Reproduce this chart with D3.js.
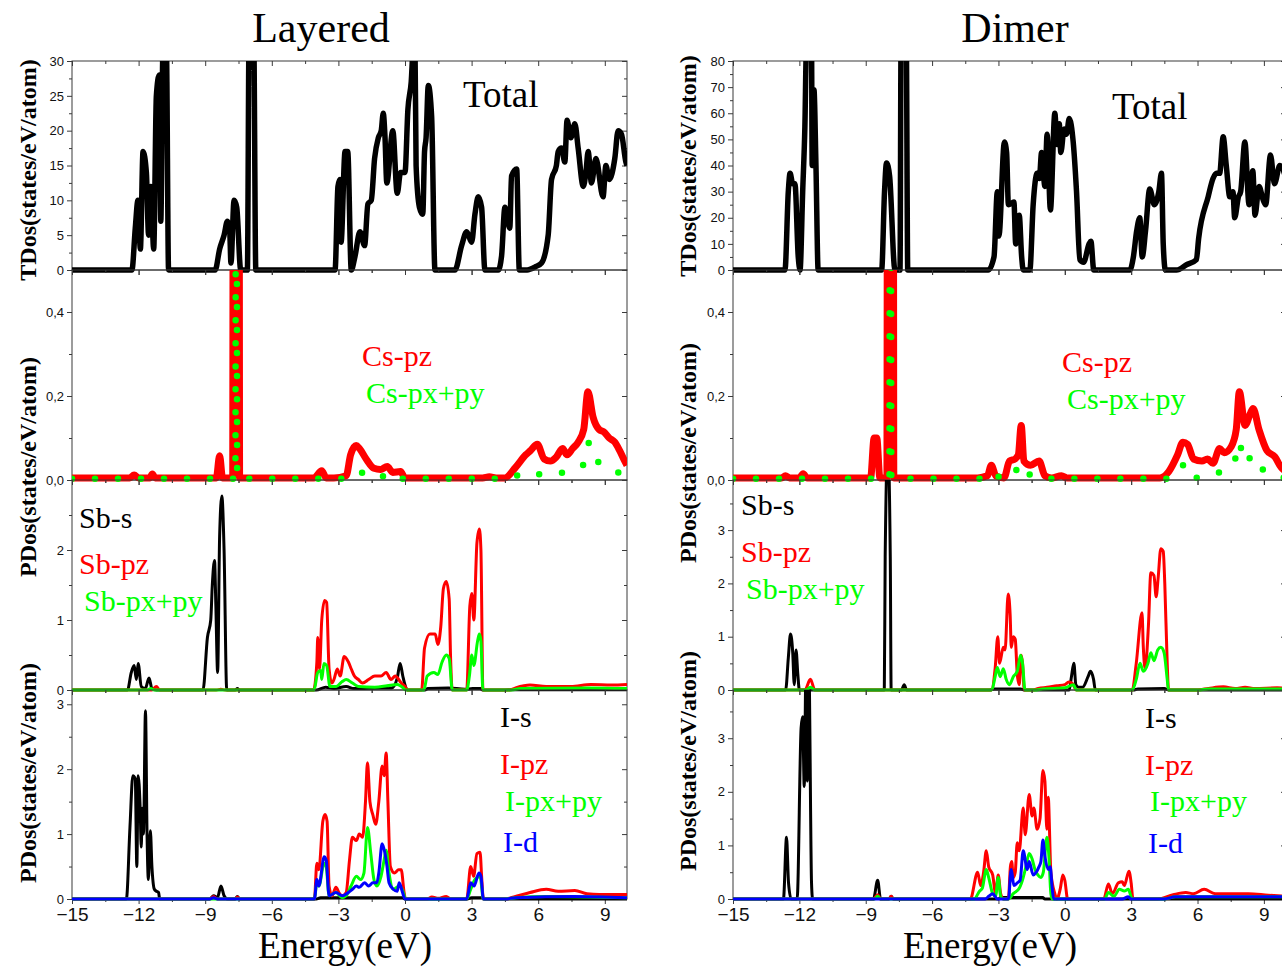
<!DOCTYPE html>
<html>
<head>
<meta charset="utf-8">
<script src="https://cdn.jsdelivr.net/npm/d3@7"></script>
<style>
  body { margin: 0; background: #fff; }
  svg { display: block; }
</style>
</head>
<body>
<svg id="chart" width="1282" height="970"></svg>
<script>
// ---------- energy axis ----------
const energyDomain = [-15, 10];
const energyMajorTicks = [-15, -12, -9, -6, -3, 0, 3, 6, 9];
const energyMinorTicks = [-13.5, -10.5, -7.5, -4.5, -1.5, 1.5, 4.5, 7.5];

// ---------- Layered: total DOS ----------
const layeredTotal = [[-15,0],[-12.3,0],[-12.15,6],[-12.03,10],[-11.92,3],[-11.8,17],[-11.65,14],[-11.55,5],[-11.45,12],[-11.32,3],[-11.2,25],[-11.07,28],[-11.0,7],[-10.9,32],[-10.75,32],[-10.65,0],[-8.55,0],[-8.35,3],[-8.15,5],[-8.0,7],[-7.9,6],[-7.84,1],[-7.7,10],[-7.58,9],[-7.4,0],[-7.1,0],[-7.02,35],[-6.82,35],[-6.72,0],[-3.15,0],[-3.02,12],[-2.93,13],[-2.88,4],[-2.7,17],[-2.58,17],[-2.42,0],[-2.25,2],[-2.03,5.5],[-1.82,3.5],[-1.67,9.5],[-1.52,10],[-1.37,16],[-1.2,19],[-1.07,20],[-0.98,22.5],[-0.9,19],[-0.82,12.5],[-0.55,20],[-0.35,11],[-0.2,14],[0.0,14],[0.13,23],[0.28,27],[0.38,32],[0.45,32],[0.5,15],[0.65,9],[0.8,8],[0.88,17],[0.95,19],[1.05,26.5],[1.2,22],[1.35,0],[2.25,0],[2.55,3.5],[2.78,5.5],[3.0,4],[3.15,8],[3.3,10.5],[3.45,9],[3.6,0],[4.2,0],[4.35,2],[4.5,9],[4.72,6],[4.8,13.5],[5.03,14.5],[5.15,0],[5.5,0],[5.9,0.5],[6.15,1],[6.45,5],[6.6,13],[6.82,15],[6.9,17],[7.05,17.5],[7.2,15.5],[7.3,21.5],[7.47,19],[7.65,21],[7.8,17.5],[8.03,12],[8.15,14],[8.25,17],[8.4,12.5],[8.6,16],[8.92,10.5],[9.05,15],[9.2,13],[9.45,16],[9.6,20],[9.75,19.5],[9.95,15.5],[10,15]];

// ---------- Layered: Cs p ----------
const layeredCsPz = [[-15,0.005],[-12.4,0.005],[-12.2,0.012],[-12.0,0.005],[-11.5,0.005],[-11.38,0.014],[-11.25,0.005],[-8.5,0.005],[-8.35,0.058],[-8.22,0.005],[-7.76,0.005],[-7.74,0.9],[-7.6,1.3],[-7.47,0.9],[-7.45,0.005],[-4.1,0.005],[-3.75,0.022],[-3.55,0.005],[-3.2,0.005],[-2.65,0.01],[-2.45,0.06],[-2.2,0.082],[-2.05,0.075],[-1.75,0.05],[-1.4,0.028],[-1.1,0.025],[-0.8,0.032],[-0.55,0.018],[-0.2,0.02],[0.0,0.005],[3.5,0.005],[3.8,0.008],[4.1,0.005],[4.5,0.005],[4.98,0.03],[5.44,0.06],[5.65,0.07],[5.96,0.085],[6.27,0.05],[6.55,0.045],[6.82,0.055],[7.1,0.075],[7.3,0.06],[7.55,0.075],[7.8,0.09],[8.05,0.12],[8.24,0.21],[8.47,0.15],[8.75,0.12],[8.95,0.115],[9.2,0.1],[9.45,0.09],[9.67,0.07],[9.9,0.045],[10,0.035]];
const layeredCsPxPy = [[-15,0.003],[-7.64,0.003],[-7.62,0.9],[-7.6,1.3],[-7.58,0.9],[-7.56,0.003],[-2.6,0.003],[-2.3,0.016],[-2.0,0.018],[-1.5,0.003],[-0.95,0.01],[-0.72,0.016],[-0.5,0.003],[4.6,0.003],[5.0,0.01],[5.6,0.02],[6.25,0.012],[6.9,0.016],[7.55,0.022],[8.1,0.04],[8.3,0.09],[8.55,0.055],[9.1,0.028],[9.8,0.015],[10,0.012]];

// ---------- Layered: Sb ----------
const layeredSbS = [[-15,0],[-12.5,0],[-12.33,0.25],[-12.2,0.35],[-12.1,0.15],[-12.02,0.38],[-11.88,0.05],[-11.7,0.02],[-11.53,0.17],[-11.4,0.02],[-11.2,0],[-9.1,0],[-8.9,0.75],[-8.75,1.0],[-8.68,1.5],[-8.58,1.85],[-8.52,1.2],[-8.44,0.25],[-8.35,2.2],[-8.25,2.77],[-8.15,2.0],[-8.03,0],[-7.65,0],[-7.55,0.02],[-7.45,0],[-4.0,0],[-3.57,0.04],[-3.2,0.02],[-2.65,0.05],[-2.3,0.02],[-0.99,0.03],[-0.6,0.03],[-0.35,0.17],[-0.22,0.38],[-0.1,0.2],[0.02,0.05],[0.1,0],[0.9,0],[1.03,0.02],[1.95,0.03],[2.7,0.01],[3.05,0.02],[3.4,0.02],[3.5,0],[4.5,0],[5.0,0.005],[10,0.005]];
const layeredSbPz = [[-15,0],[-11.4,0],[-11.2,0.05],[-11.05,0],[-8.5,0],[-8.3,0.01],[-8.1,0],[-4.12,0],[-3.97,0.4],[-3.93,0.75],[-3.85,0.3],[-3.75,1.0],[-3.62,1.28],[-3.53,1.25],[-3.42,0.3],[-3.3,0.1],[-3.2,0.15],[-3.05,0.3],[-2.92,0.2],[-2.74,0.48],[-2.55,0.4],[-2.42,0.3],[-2.28,0.2],[-2.1,0.15],[-1.91,0.1],[-1.64,0.15],[-1.36,0.2],[-1.08,0.2],[-0.85,0.25],[-0.63,0.15],[-0.44,0.2],[-0.17,0.1],[0.0,0.05],[0.11,0],[0.75,0],[0.88,0.6],[1.12,0.8],[1.36,0.8],[1.48,0.65],[1.61,0.9],[1.73,1.45],[1.86,1.55],[1.99,1.3],[2.05,0.5],[2.13,0],[2.78,0],[2.92,1.2],[3.01,1.38],[3.1,1.0],[3.24,2.1],[3.35,2.3],[3.42,2.0],[3.51,0],[4.7,0],[4.98,0.03],[5.63,0.07],[6.36,0.05],[7.47,0.05],[8.38,0.08],[9.3,0.07],[10,0.08]];
const layeredSbPxPy = [[-15,0],[-11.6,0],[-11.45,0.02],[-11.3,0],[-4.1,0],[-3.93,0.25],[-3.8,0.28],[-3.75,0.15],[-3.65,0.38],[-3.53,0.35],[-3.38,0.05],[-3.1,0.05],[-2.83,0.12],[-2.65,0.15],[-2.37,0.1],[-2.1,0.05],[-1.36,0.04],[-0.81,0.06],[-0.35,0.08],[-0.08,0.03],[0.02,0],[0.85,0],[1.0,0.2],[1.3,0.25],[1.48,0.22],[1.67,0.4],[1.86,0.5],[1.99,0.45],[2.13,0],[2.78,0],[2.9,0.2],[3.01,0.5],[3.1,0.35],[3.27,0.7],[3.35,0.8],[3.42,0.7],[3.51,0],[4.8,0],[5.2,0.02],[8.3,0.03],[10,0.02]];

// ---------- Layered: I ----------
const layeredIS = [[-15,0],[-12.55,0],[-12.39,1.1],[-12.26,1.9],[-12.15,1.85],[-12.08,0.5],[-12.02,1.9],[-11.93,1.4],[-11.88,0.8],[-11.84,1.4],[-11.78,1.0],[-11.69,2.9],[-11.62,1.0],[-11.56,0.3],[-11.47,1.05],[-11.4,0.5],[-11.29,0.15],[-11.2,0.12],[-11.1,0.1],[-11.05,0],[-8.8,0],[-8.62,0.05],[-8.45,0.02],[-8.29,0.2],[-8.15,0.05],[-8.0,0],[-7.65,0],[-7.55,0.04],[-7.45,0],[-4.0,0],[-3.8,0.02],[-0.1,0.02],[0,0],[2.8,0],[3.0,0.02],[3.5,0.02],[3.6,0],[10,0]];
const layeredIPz = [[-15,0],[-8.8,0],[-8.62,0.04],[-8.45,0],[-7.65,0],[-7.55,0.03],[-7.45,0],[-4.08,0],[-3.97,0.55],[-3.88,0.45],[-3.7,1.2],[-3.6,1.3],[-3.51,1.2],[-3.42,0.2],[-3.29,0.05],[-3.11,0.18],[-2.98,0.1],[-2.83,0.05],[-2.65,0.1],[-2.5,0.6],[-2.37,0.95],[-2.19,0.9],[-2.06,1.0],[-1.91,0.95],[-1.78,1.5],[-1.69,2.1],[-1.58,1.5],[-1.45,1.3],[-1.32,1.15],[-1.18,1.5],[-1.03,2.05],[-0.94,1.9],[-0.85,2.25],[-0.77,1.5],[-0.66,0.5],[-0.48,0.4],[-0.29,0.45],[-0.17,0.45],[-0.04,0.1],[0.02,0],[1.0,0],[1.21,0.03],[1.5,0.01],[1.86,0.04],[2.05,0],[2.78,0],[2.96,0.5],[3.09,0.35],[3.24,0.7],[3.38,0.72],[3.46,0.3],[3.53,0],[4.5,0],[4.9,0.03],[5.63,0.1],[6.36,0.15],[6.9,0.12],[7.65,0.13],[8.2,0.08],[8.75,0.07],[10,0.07]];
const layeredIPxPy = [[-15,0],[-4.08,0],[-3.97,0.25],[-3.88,0.2],[-3.64,0.55],[-3.55,0.5],[-3.42,0.05],[-3.11,0.1],[-2.83,0.02],[-2.65,0.05],[-2.43,0.2],[-2.19,0.35],[-2.0,0.3],[-1.85,0.4],[-1.69,1.1],[-1.54,0.7],[-1.4,0.3],[-1.27,0.2],[-1.08,0.35],[-0.94,0.6],[-0.85,0.75],[-0.72,0.4],[-0.53,0.15],[-0.26,0.2],[-0.07,0.1],[0.02,0],[2.78,0],[2.96,0.15],[3.15,0.3],[3.38,0.35],[3.53,0],[4.5,0],[5.0,0.02],[6.36,0.04],[10,0.02]];
const layeredID = [[-15,0],[-8.8,0],[-8.62,0.02],[-8.45,0],[-4.08,0],[-3.97,0.3],[-3.88,0.2],[-3.64,0.65],[-3.55,0.6],[-3.42,0.05],[-3.11,0.1],[-2.83,0.05],[-2.55,0.1],[-2.37,0.15],[-2.19,0.2],[-2.06,0.18],[-1.82,0.25],[-1.64,0.2],[-1.45,0.25],[-1.27,0.25],[-1.18,0.4],[-1.03,0.85],[-0.9,0.7],[-0.81,0.5],[-0.72,0.25],[-0.53,0.15],[-0.35,0.12],[-0.26,0.25],[-0.11,0.1],[0.0,0],[2.78,0],[2.96,0.25],[3.11,0.2],[3.33,0.4],[3.42,0.35],[3.53,0],[4.5,0],[5.0,0.02],[7.6,0.04],[10,0.02]];

// ---------- Dimer: total DOS ----------
const dimerTotal = [[-15,0],[-12.65,0],[-12.5,30],[-12.42,37],[-12.3,33],[-12.2,33],[-12.05,5],[-11.97,0],[-11.85,30],[-11.75,55],[-11.68,85],[-11.45,85],[-11.42,40],[-11.34,69],[-11.25,40],[-11.15,0],[-8.28,0],[-8.15,30],[-8.06,41],[-7.92,36],[-7.68,0],[-7.45,0],[-7.4,90],[-7.17,90],[-7.1,0],[-3.46,0],[-3.2,5],[-3.05,30],[-2.98,13],[-2.73,49],[-2.63,45],[-2.55,25],[-2.3,26],[-2.22,10],[-2.06,21],[-1.95,5],[-1.88,0],[-1.58,0],[-1.43,25],[-1.25,37],[-1.15,35],[-1.05,45],[-0.9,32],[-0.8,52],[-0.65,23],[-0.45,60],[-0.35,48],[-0.25,56],[-0.18,45],[-0.03,54],[0.08,52],[0.2,58],[0.38,49],[0.53,30],[0.68,4],[0.85,3],[1.1,10],[1.18,11],[1.31,0],[2.94,0],[3.1,5],[3.25,15],[3.39,20],[3.5,5],[3.65,15],[3.84,31],[4.05,25],[4.25,30],[4.37,37],[4.45,10],[4.55,0],[5.05,0],[5.5,2],[5.95,4],[6.05,12],[6.48,28],[6.7,35],[6.86,37],[7.0,37],[7.16,51],[7.3,40],[7.46,28],[7.6,30],[7.68,20],[7.85,28],[7.95,30],[8.14,49],[8.33,25],[8.5,38],[8.6,21],[8.78,32],[8.96,27],[9.08,25],[9.3,44],[9.48,33],[9.72,40],[10,35]];

// ---------- Dimer: Cs p ----------
const dimerCsPz = [[-15,0.005],[-12.8,0.005],[-12.63,0.01],[-12.45,0.005],[-12.0,0.005],[-11.83,0.015],[-11.65,0.005],[-8.78,0.005],[-8.62,0.1],[-8.5,0.1],[-8.36,0.005],[-8.04,0.005],[-8.02,0.9],[-7.885,1.3],[-7.75,0.9],[-7.73,0.005],[-3.94,0.005],[-3.5,0.01],[-3.32,0.035],[-3.12,0.01],[-2.75,0.005],[-2.5,0.045],[-2.25,0.05],[-2.1,0.06],[-1.97,0.13],[-1.85,0.045],[-1.55,0.035],[-1.16,0.045],[-0.9,0.01],[-0.6,0.005],[-0.15,0.01],[0.1,0.005],[4.3,0.005],[4.7,0.02],[5.1,0.06],[5.34,0.09],[5.55,0.085],[5.82,0.05],[6.2,0.045],[6.45,0.05],[6.7,0.04],[7.0,0.075],[7.2,0.065],[7.53,0.08],[7.75,0.12],[7.89,0.21],[8.15,0.13],[8.4,0.16],[8.51,0.17],[8.78,0.12],[9.14,0.07],[9.5,0.055],[9.78,0.03],[10,0.02]];
const dimerCsPxPy = [[-15,0.003],[-7.93,0.003],[-7.91,0.9],[-7.885,1.3],[-7.86,0.9],[-7.84,0.003],[-3.4,0.003],[-3.14,0.016],[-2.9,0.003],[-2.3,0.01],[-2.06,0.04],[-1.85,0.03],[-1.4,0.005],[-1.0,0.003],[4.5,0.003],[5.0,0.008],[5.47,0.04],[5.9,0.005],[6.63,0.016],[7.15,0.02],[7.67,0.045],[7.89,0.09],[8.1,0.04],[8.55,0.06],[8.9,0.028],[9.55,0.008],[10,0.005]];

// ---------- Dimer: Sb ----------
const dimerSbS = [[-15,0],[-12.62,0],[-12.5,0.6],[-12.4,1.05],[-12.3,0.7],[-12.23,0.1],[-12.15,0.75],[-12.07,0.3],[-12.0,0],[-8.16,0],[-8.12,2.5],[-8.0,4.6],[-7.89,2.5],[-7.85,0],[-7.38,0],[-7.26,0.1],[-7.15,0],[-3.4,0],[-3.2,0.02],[-2.0,0.02],[-1.8,0],[0.2,0],[0.3,0.25],[0.41,0.5],[0.5,0.1],[0.63,0.05],[0.8,0.05],[1.05,0.25],[1.16,0.35],[1.3,0.2],[1.38,0],[3.1,0],[3.3,0.02],[4.5,0.03],[4.7,0],[10,0]];
const dimerSbPz = [[-15,0],[-11.75,0],[-11.5,0.2],[-11.3,0],[-3.32,0],[-3.15,0.4],[-3.03,1.0],[-2.95,0.5],[-2.78,0.8],[-2.7,0.75],[-2.56,1.8],[-2.47,1.4],[-2.42,0.8],[-2.33,1.0],[-2.24,0.95],[-2.15,0.3],[-2.06,0.1],[-1.97,0.65],[-1.91,0.5],[-1.83,0],[-1.43,0],[-1.2,0.03],[-0.8,0.05],[-0.36,0.08],[0.0,0.1],[0.18,0.15],[0.35,0.12],[0.52,0],[3.05,0],[3.23,0.5],[3.49,1.45],[3.55,0.8],[3.63,0.4],[3.78,1.2],[3.89,2.2],[4.03,2.15],[4.13,1.75],[4.22,2.1],[4.34,2.65],[4.45,2.6],[4.52,2.0],[4.63,0.5],[4.69,0],[6.0,0],[6.5,0.03],[7.17,0.06],[7.7,0.03],[8.15,0.05],[8.6,0.03],[9.6,0.04],[10,0.03]];
const dimerSbPxPy = [[-15,0],[-11.7,0],[-11.5,0.05],[-11.3,0],[-3.3,0],[-3.15,0.25],[-3.05,0.42],[-2.92,0.25],[-2.78,0.4],[-2.65,0.2],[-2.5,0.1],[-2.33,0.25],[-2.15,0.35],[-2.0,0.65],[-1.91,0.5],[-1.8,0],[-1.4,0],[-1.0,0.02],[0.0,0.04],[0.39,0.1],[0.52,0],[3.05,0],[3.23,0.2],[3.4,0.5],[3.55,0.35],[3.76,0.5],[3.89,0.7],[4.03,0.55],[4.2,0.75],[4.34,0.8],[4.49,0.7],[4.63,0.2],[4.69,0],[6.0,0],[6.5,0.02],[10,0.02]];

// ---------- Dimer: I ----------
const dimerIS = [[-15,0],[-12.72,0],[-12.58,1.15],[-12.49,0.3],[-12.37,0],[-12.1,0],[-11.92,3.2],[-11.85,3.4],[-11.78,2.1],[-11.7,4.3],[-11.64,2.2],[-11.57,4.3],[-11.45,0.3],[-11.4,0],[-8.65,0],[-8.46,0.35],[-8.33,0],[-7.95,0],[-7.85,0.05],[-7.75,0],[-3.0,0],[-2.9,0.03],[-1.0,0.03],[-0.9,0],[10,0]];
const dimerIPz = [[-15,0],[-8.65,0],[-8.46,0.08],[-8.33,0],[-7.95,0],[-7.85,0.05],[-7.75,0],[-4.27,0],[-3.94,0.5],[-3.8,0.25],[-3.67,0.5],[-3.55,0.9],[-3.44,0.6],[-3.26,0.45],[-3.13,0.1],[-3.01,0.45],[-2.9,0.1],[-2.78,0],[-2.55,0],[-2.46,0.6],[-2.4,0.7],[-2.33,0.4],[-2.24,0.5],[-2.15,1.05],[-2.06,0.9],[-1.88,1.7],[-1.79,1.2],[-1.61,1.95],[-1.48,1.55],[-1.4,1.7],[-1.25,1.3],[-1.12,1.5],[-0.99,2.4],[-0.9,2.2],[-0.81,1.3],[-0.75,1.9],[-0.63,0.5],[-0.45,0.1],[-0.36,0],[-0.2,0.2],[-0.09,0.45],[0.0,0.35],[0.13,0],[1.76,0],[1.97,0.28],[2.15,0.1],[2.42,0.3],[2.6,0.32],[2.69,0.25],[2.9,0.52],[3.0,0.3],[3.08,0],[4.2,0],[4.9,0.08],[5.47,0.12],[5.82,0.1],[6.3,0.18],[6.8,0.1],[7.39,0.1],[8.3,0.1],[9.2,0.07],[10,0.05]];
const dimerIPxPy = [[-15,0],[-8.6,0],[-8.46,0.05],[-8.33,0],[-4.1,0],[-3.85,0.15],[-3.73,0.2],[-3.55,0.55],[-3.44,0.4],[-3.26,0.1],[-3.13,0.05],[-3.01,0.4],[-2.9,0.05],[-2.78,0],[-2.55,0],[-2.33,0.1],[-2.06,0.2],[-1.88,0.4],[-1.76,0.6],[-1.61,0.85],[-1.48,0.75],[-1.35,0.55],[-1.22,0.45],[-1.08,0.4],[-0.97,0.5],[-0.81,1.15],[-0.72,0.8],[-0.63,0.1],[-0.57,0],[1.8,0],[1.97,0.12],[2.22,0.05],[2.47,0.18],[2.69,0.15],[2.87,0.18],[3.05,0],[4.5,0],[5.0,0.04],[10,0.04]];
const dimerID = [[-15,0],[-3.6,0],[-3.44,0.05],[-3.26,0.1],[-3.05,0],[-2.55,0],[-2.42,0.55],[-2.3,0.25],[-2.15,0.3],[-2.02,0.35],[-1.88,0.9],[-1.7,0.55],[-1.61,0.7],[-1.43,0.45],[-1.29,0.5],[-1.17,0.6],[-1.08,0.7],[-0.99,1.1],[-0.9,0.8],[-0.75,0.55],[-0.66,0.6],[-0.57,0.2],[-0.5,0],[2.6,0],[2.87,0.04],[3.0,0],[4.5,0],[5.0,0.04],[10,0.04]];

// ---------- y tick values ----------
const layeredTotalTicks = [0, 5, 10, 15, 20, 25, 30];
const dimerTotalTicks = [0, 10, 20, 30, 40, 50, 60, 70, 80];
const csTicks = [0, 0.2, 0.4];
const layeredSbTicks = [0, 1, 2];
const dimerSbTicks = [0, 1, 2, 3];
const iTicks = [0, 1, 2, 3];

// ---------- styles ----------
const BLACK = "#000000", RED = "#ff0000", GREEN = "#00ff00", BLUE = "#0000ff";
const SERIF = "'Liberation Serif', 'Times New Roman', serif";
const SANS = "'Liberation Sans', Arial, sans-serif";

const figures = [
  {
    id: "layered", title: "Layered", titleX: 321, x0: 72, x1: 627, xLabelX: 345, yLabelX: 28,
    yLabels: [{ text: "TDos(states/eV/atom)", cy: 170 }, { text: "PDos(states/eV/atom)", cy: 467 }, { text: "PDos(states/eV/atom)", cy: 773 }],
    panels: [
      { top: 61, bottom: 270, ymax: 30, ticks: layeredTotalTicks, minorStep: 2.5, labelTop: true,
        series: [{ data: layeredTotal, color: BLACK, width: 5.5 }],
        labels: [{ text: "Total", x: 463, y: 107, size: 37, color: BLACK }] },
      { top: 270, bottom: 480, ymax: 0.5, ticks: csTicks, minorStep: 0.1, comma: true,
        series: [{ data: layeredCsPz, color: RED, width: 7 }, { data: layeredCsPxPy, color: GREEN, width: 6.5, dots: true }],
        labels: [{ text: "Cs-pz", x: 362, y: 366, size: 30, color: RED }, { text: "Cs-px+py", x: 366, y: 403, size: 30, color: GREEN }] },
      { top: 480, bottom: 690, ymax: 3, ticks: layeredSbTicks, minorStep: 0.5,
        series: [{ data: layeredSbS, color: BLACK, width: 3 }, { data: layeredSbPz, color: RED, width: 3 }, { data: layeredSbPxPy, color: GREEN, width: 3 }],
        labels: [{ text: "Sb-s", x: 79, y: 528, size: 30, color: BLACK }, { text: "Sb-pz", x: 79, y: 574, size: 30, color: RED }, { text: "Sb-px+py", x: 84, y: 611, size: 30, color: GREEN }] },
      { top: 690, bottom: 899, ymax: 3.22, ticks: iTicks, minorStep: 0.5, xLabels: true,
        series: [{ data: layeredIS, color: BLACK, width: 3 }, { data: layeredIPz, color: RED, width: 3 }, { data: layeredIPxPy, color: GREEN, width: 3 }, { data: layeredID, color: BLUE, width: 3 }],
        labels: [{ text: "I-s", x: 500, y: 727, size: 30, color: BLACK }, { text: "I-pz", x: 500, y: 774, size: 30, color: RED }, { text: "I-px+py", x: 505, y: 811, size: 30, color: GREEN }, { text: "I-d", x: 503, y: 852, size: 30, color: BLUE }] }
    ]
  },
  {
    id: "dimer", title: "Dimer", titleX: 1015, x0: 733, x1: 1286, xLabelX: 990, yLabelX: 688,
    yLabels: [{ text: "TDos(states/eV/atom)", cy: 166 }, { text: "PDos(states/eV/atom)", cy: 453 }, { text: "PDos(states/eV/atom)", cy: 761 }],
    panels: [
      { top: 61, bottom: 270, ymax: 80, ticks: dimerTotalTicks, minorStep: 5, labelTop: true,
        series: [{ data: dimerTotal, color: BLACK, width: 5.5 }],
        labels: [{ text: "Total", x: 1112, y: 119, size: 37, color: BLACK }] },
      { top: 270, bottom: 480, ymax: 0.5, ticks: csTicks, minorStep: 0.1, comma: true,
        series: [{ data: dimerCsPz, color: RED, width: 7 }, { data: dimerCsPxPy, color: GREEN, width: 6.5, dots: true }],
        labels: [{ text: "Cs-pz", x: 1062, y: 372, size: 30, color: RED }, { text: "Cs-px+py", x: 1067, y: 409, size: 30, color: GREEN }] },
      { top: 480, bottom: 690, ymax: 3.94, ticks: dimerSbTicks, minorStep: 0.5,
        series: [{ data: dimerSbS, color: BLACK, width: 3 }, { data: dimerSbPz, color: RED, width: 3 }, { data: dimerSbPxPy, color: GREEN, width: 3 }],
        labels: [{ text: "Sb-s", x: 741, y: 515, size: 30, color: BLACK }, { text: "Sb-pz", x: 741, y: 562, size: 30, color: RED }, { text: "Sb-px+py", x: 746, y: 599, size: 30, color: GREEN }] },
      { top: 690, bottom: 899, ymax: 3.9, ticks: iTicks, minorStep: 0.5, xLabels: true,
        series: [{ data: dimerIS, color: BLACK, width: 3 }, { data: dimerIPz, color: RED, width: 3 }, { data: dimerIPxPy, color: GREEN, width: 3 }, { data: dimerID, color: BLUE, width: 3 }],
        labels: [{ text: "I-s", x: 1145, y: 728, size: 30, color: BLACK }, { text: "I-pz", x: 1145, y: 775, size: 30, color: RED }, { text: "I-px+py", x: 1150, y: 811, size: 30, color: GREEN }, { text: "I-d", x: 1148, y: 853, size: 30, color: BLUE }] }
    ]
  }
];

const svg = d3.select("#chart");
const defs = svg.append("defs");
const FRAME = "#3a3a3a";

function styleAxis(g) {
  g.select(".domain").remove();
  g.selectAll(".tick line").attr("stroke", FRAME).attr("stroke-width", 1);
  g.selectAll(".tick text").attr("fill", "#111");
}

function minorValues(max, step, majors) {
  const out = [];
  for (let v = step; v < max - 1e-9; v += step) {
    const r = Math.round(v * 1000) / 1000;
    if (!majors.some(m => Math.abs(m - r) < 1e-6)) out.push(r);
  }
  return out;
}

figures.forEach(fig => {
  const x = d3.scaleLinear().domain(energyDomain).range([fig.x0, fig.x1]);

  fig.panels.forEach((p, i) => {
    const y = d3.scaleLinear().domain([0, p.ymax]).range([p.bottom, p.top]);
    const g = svg.append("g");
    const clipId = `clip-${fig.id}-${i}`;
    defs.append("clipPath").attr("id", clipId)
      .append("rect")
      .attr("x", fig.x0).attr("y", p.top)
      .attr("width", fig.x1 - fig.x0).attr("height", p.bottom - p.top + 3);

    // frame
    g.append("rect")
      .attr("x", fig.x0).attr("y", p.top)
      .attr("width", fig.x1 - fig.x0).attr("height", p.bottom - p.top)
      .attr("fill", "none").attr("stroke", FRAME).attr("stroke-width", 1);

    const majors = p.ticks.filter(v => p.labelTop || v < p.ymax - 1e-6);
    const minors = minorValues(p.ymax, p.minorStep, p.ticks);
    const fmt = p.comma ? (v => d3.format(".1f")(v).replace(".", ",")) : d3.format("d");

    // left axis: ticks outward
    g.append("g").attr("transform", `translate(${fig.x0},0)`)
      .call(d3.axisLeft(y).tickValues(majors).tickSize(5).tickPadding(3).tickFormat(fmt))
      .call(styleAxis)
      .call(a => a.selectAll("text").attr("font-family", SANS).attr("font-size", 13));
    g.append("g").attr("transform", `translate(${fig.x0},0)`)
      .call(d3.axisLeft(y).tickValues(minors).tickSize(3).tickFormat(""))
      .call(styleAxis);
    // right axis: ticks inward
    g.append("g").attr("transform", `translate(${fig.x1},0)`)
      .call(d3.axisRight(y).tickValues(majors).tickSize(-5).tickFormat(""))
      .call(styleAxis);
    g.append("g").attr("transform", `translate(${fig.x1},0)`)
      .call(d3.axisRight(y).tickValues(minors).tickSize(-3).tickFormat(""))
      .call(styleAxis);
    // top axis: ticks inward
    g.append("g").attr("transform", `translate(0,${p.top})`)
      .call(d3.axisTop(x).tickValues(energyMajorTicks).tickSize(-5).tickFormat(""))
      .call(styleAxis);
    g.append("g").attr("transform", `translate(0,${p.top})`)
      .call(d3.axisTop(x).tickValues(energyMinorTicks).tickSize(-3).tickFormat(""))
      .call(styleAxis);
    // bottom axis: ticks outward
    g.append("g").attr("transform", `translate(0,${p.bottom})`)
      .call(d3.axisBottom(x).tickValues(energyMajorTicks).tickSize(5).tickPadding(4)
        .tickFormat(p.xLabels ? d3.format("d") : ""))
      .call(styleAxis)
      .call(a => a.selectAll("text").attr("font-family", SANS).attr("font-size", 19));
    g.append("g").attr("transform", `translate(0,${p.bottom})`)
      .call(d3.axisBottom(x).tickValues(energyMinorTicks).tickSize(3).tickFormat(""))
      .call(styleAxis);

    // curves
    const line = d3.line().x(d => x(d[0])).y(d => y(d[1])).curve(d3.curveMonotoneX);
    const cg = g.append("g").attr("clip-path", `url(#${clipId})`);
    p.series.forEach(s => {
      cg.append("path").datum(s.data)
        .attr("d", line)
        .attr("fill", "none")
        .attr("stroke", s.color)
        .attr("stroke-width", s.width)
        .attr("stroke-linejoin", "round")
        .attr("stroke-linecap", s.dots ? "round" : "butt")
        .attr("stroke-dasharray", s.dots ? "0 23" : null);
    });

    // in-panel labels
    p.labels.forEach(l => {
      g.append("text").attr("x", l.x).attr("y", l.y)
        .attr("font-family", SERIF).attr("font-size", l.size)
        .attr("fill", l.color).text(l.text);
    });
  });

  // figure title
  svg.append("text").attr("x", fig.titleX).attr("y", 42)
    .attr("text-anchor", "middle").attr("font-family", SERIF).attr("font-size", 42)
    .attr("fill", "#000").text(fig.title);

  // energy axis title
  svg.append("text").attr("x", fig.xLabelX).attr("y", 958)
    .attr("text-anchor", "middle").attr("font-family", SERIF).attr("font-size", 37)
    .attr("fill", "#000").text("Energy(eV)");

  // vertical axis titles
  fig.yLabels.forEach(l => {
    svg.append("text")
      .attr("transform", `translate(${fig.yLabelX},${l.cy}) rotate(-90)`)
      .attr("text-anchor", "middle").attr("dominant-baseline", "central")
      .attr("font-family", SERIF).attr("font-weight", "bold").attr("font-size", 24)
      .attr("fill", "#000").text(l.text);
  });
});
</script>
</body>
</html>
